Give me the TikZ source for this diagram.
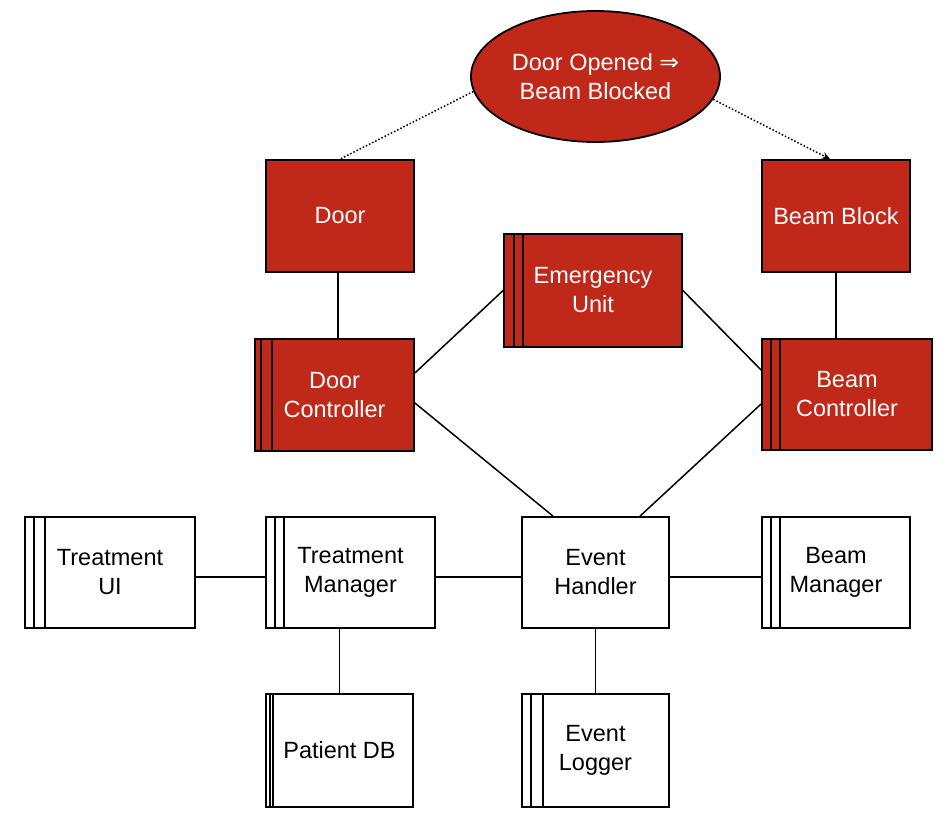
\documentclass[tikz,border=0pt]{standalone}
\usepackage{fontspec}
\setmainfont{Liberation Sans}
\newfontfamily\arrowfont{DejaVu Sans}
\usetikzlibrary{shapes.geometric,arrows.meta}
\definecolor{boxred}{RGB}{192,40,25}
\tikzset{
  base/.style={draw=black, line width=1.8pt, align=center, inner sep=0pt,
    font=\fontsize{23.5}{29}\selectfont},
  redbox/.style={base, fill=boxred, text=white},
  whitebox/.style={base, fill=white, text=black},
  conn/.style={line width=1.5pt},
  dotconn/.style={line width=1.5pt, dotted},
  side/.style={line width=1.6pt},
}
\newcommand{\sidelines}[3]{%
  \draw[side] ([xshift=#2pt]#1.north west) -- ([xshift=#2pt]#1.south west);
  \draw[side] ([xshift=#3pt]#1.north west) -- ([xshift=#3pt]#1.south west);
}
\begin{document}
\begin{tikzpicture}[x=1pt,y=-1pt]
\useasboundingbox (0,0) rectangle (948,824);
\fill[white] (0,0) rectangle (948,824);

\node[redbox, ellipse, minimum width=249pt, minimum height=131pt] (ell) at (595.5,76.5)
  {Door Opened {\arrowfont ⇒}\\Beam Blocked};

\node[redbox, minimum width=148pt, minimum height=112pt] (door) at (340,216) {Door};
\node[redbox, minimum width=148pt, minimum height=112pt] (bblock) at (836,216) {Beam Block};
\node[redbox, minimum width=178pt, minimum height=113pt] (emerg) at (593,290.5) {Emergency\\Unit};
\node[redbox, minimum width=159pt, minimum height=112pt] (dctl) at (334.5,395) {Door\\Controller};
\node[redbox, minimum width=170pt, minimum height=111pt] (bctl) at (847,394.5) {Beam\\Controller};

\node[whitebox, minimum width=170pt, minimum height=111pt] (tui) at (110,572.5) {Treatment\\UI};
\node[whitebox, minimum width=169pt, minimum height=111pt] (tmgr) at (350.5,572.5) {Treatment\\Manager};
\node[whitebox, minimum width=147pt, minimum height=111pt] (evh) at (595.5,572.5) {Event\\Handler};
\node[whitebox, minimum width=148pt, minimum height=111pt] (bmgr) at (836,572.5) {Beam\\Manager};
\node[whitebox, minimum width=147pt, minimum height=113pt] (pdb) at (339.5,750.5) {Patient DB};
\node[whitebox, minimum width=147pt, minimum height=113pt] (elog) at (595.5,750.5) {Event\\Logger};

\sidelines{emerg}{11}{20}
\sidelines{dctl}{7}{18}
\sidelines{bctl}{10}{19}
\sidelines{tui}{10}{21}
\sidelines{tmgr}{10}{19}
\sidelines{bmgr}{10}{19}
\sidelines{pdb}{5}{8}
\sidelines{elog}{10}{22}

% dotted connectors
\draw[dotconn] (ell.187.7) -- (door.north);
\draw[dotconn, -{Stealth[length=8pt,width=7pt]}] (ell.349.8) -- ([xshift=-6pt]bblock.north);

% solid connectors
\draw[conn] ([xshift=-2pt]door.south) -- ([xshift=-2pt]door.south |- dctl.north);
\draw[conn] (bblock.south) -- (bblock.south |- bctl.north);
\draw[conn] ([yshift=22pt]dctl.east) -- (emerg.west);
\draw[conn] (emerg.east) -- ([yshift=24.5pt]bctl.west);
\draw[conn] ([yshift=-8pt]dctl.east) -- ([xshift=-42.5pt]evh.north);
\draw[conn] ([yshift=-9.5pt]bctl.west) -- ([xshift=44.5pt]evh.north);
\draw[conn] ([yshift=-4.5pt]tui.east) -- ([yshift=-4.5pt]tmgr.west);
\draw[conn] ([yshift=-4.5pt]tmgr.east) -- ([yshift=-4.5pt]evh.west);
\draw[conn] ([yshift=-4.5pt]evh.east) -- ([yshift=-4.5pt]bmgr.west);
\draw[conn] (pdb.north |- tmgr.south) -- (pdb.north);
\draw[conn] (evh.south) -- (elog.north);
\end{tikzpicture}
\end{document}
